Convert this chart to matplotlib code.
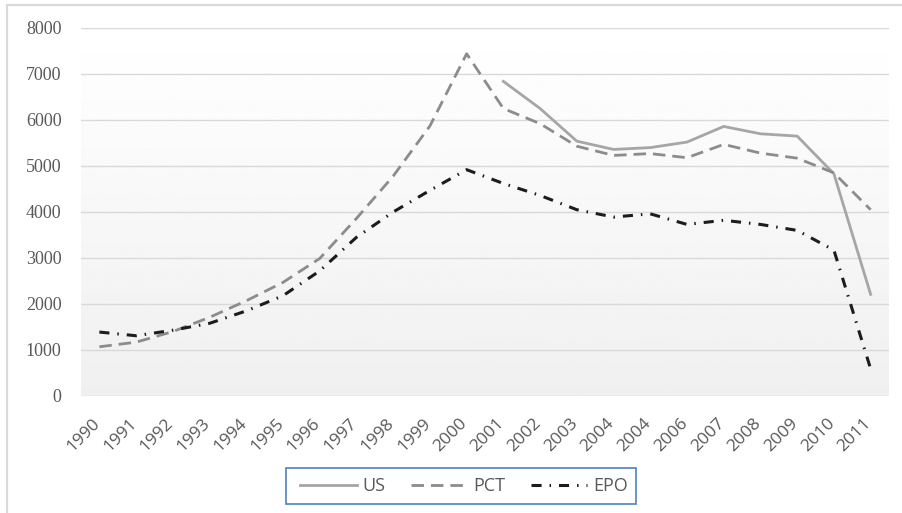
import numpy as np
import matplotlib
matplotlib.use('Agg')
import matplotlib.pyplot as plt
import matplotlib.transforms as mtransforms
from matplotlib.patches import Rectangle

# data
years = ['1990', '1991', '1992', '1993', '1994', '1995', '1996', '1997', '1998',
         '1999', '2000', '2001', '2002', '2003', '2004', '2004', '2006', '2007',
         '2008', '2009', '2010', '2011']
us = [np.nan] * 11 + [6840, 6250, 5540, 5360, 5400, 5520, 5860, 5700, 5650,
                      4830, 2210]
pct = [1070, 1170, 1400, 1710, 2070, 2470, 2990, 3860, 4780, 5870, 7440, 6250,
       5920, 5430, 5230, 5270, 5180, 5470, 5280, 5170, 4850, 4050]
epo = [1390, 1310, 1430, 1580, 1850, 2180, 2720, 3450, 4000, 4470, 4920, 4620,
       4360, 4050, 3890, 3960, 3730, 3820, 3730, 3600, 3170, 590]

text_grey = '#595959'
narrow = ['Liberation Sans Narrow', 'Open Sans', 'DejaVu Sans']

W, H = 903, 513
fig = plt.figure(figsize=(W / 100, H / 100), dpi=100)
fig.patch.set_facecolor('white')

# outer chart border (only top and left visible)
fig.patches.append(Rectangle((7 / W, -0.1), 1.2, 1 - 5 / H + 0.1,
                             transform=fig.transFigure, fill=False,
                             edgecolor='#d9d9d9', linewidth=1.6))

ax = fig.add_axes([81 / W, 1 - 396 / H, 808 / W, (396 - 28) / H])
idx = np.arange(len(years))
ax.set_xlim(-0.5, len(years) - 0.5)
ax.set_ylim(0, 8000)

# gradient background, white at top to light grey at bottom
grad = np.linspace(1.0, 0.94, 256).reshape(-1, 1)
ax.imshow(grad, cmap='gray', vmin=0, vmax=1, aspect='auto',
          extent=(-0.5, len(years) - 0.5, 0, 8000), origin='upper', zorder=0)

for v in range(0, 8001, 1000):
    ax.axhline(v, color='#d9d9d9', linewidth=1.0, zorder=1)

ax.plot(idx, us, color='#a6a6a6', linewidth=2.0, label='US', zorder=3)
ax.plot(idx, pct, color='#8c8c8c', linewidth=2.0, linestyle=(0, (4.5, 2.5)),
        label='PCT', zorder=3)
ax.plot(idx, epo, color='#1c1c1c', linewidth=2.2,
        linestyle=(0, (3.3, 2.6, 0.5, 2.6)), label='EPO', zorder=4)

for s in ax.spines.values():
    s.set_visible(False)

ax.set_yticks(range(0, 8001, 1000))
ax.set_yticklabels([str(v) for v in range(0, 8001, 1000)],
                   family='Liberation Serif', fontsize=13, color=text_grey)
ax.tick_params(axis='y', length=0, pad=14)

ax.set_xticks(idx)
ax.set_xticklabels(years, rotation=45, ha='right', family=narrow,
                   fontsize=12.5, color=text_grey)
ax.tick_params(axis='x', length=0, pad=14)
offset = mtransforms.ScaledTranslation(4 / 100, 0, fig.dpi_scale_trans)
for lab in ax.get_xticklabels():
    lab.set_transform(lab.get_transform() + offset)

# legend with its own blue frame
fig.patches.append(Rectangle((286 / W, 1 - 504 / H), 350 / W, 36 / H,
                             transform=fig.transFigure, fill=False,
                             edgecolor='#4f81bd', linewidth=1.2))
leg = fig.legend(loc='center', bbox_to_anchor=(464 / W, 1 - 486 / H),
                 ncol=3, frameon=False, handlelength=3.15, handletextpad=0.3,
                 columnspacing=1.4, prop={'family': narrow, 'size': 13})
for t in leg.get_texts():
    t.set_color(text_grey)

plt.savefig('out.png', dpi=100)
